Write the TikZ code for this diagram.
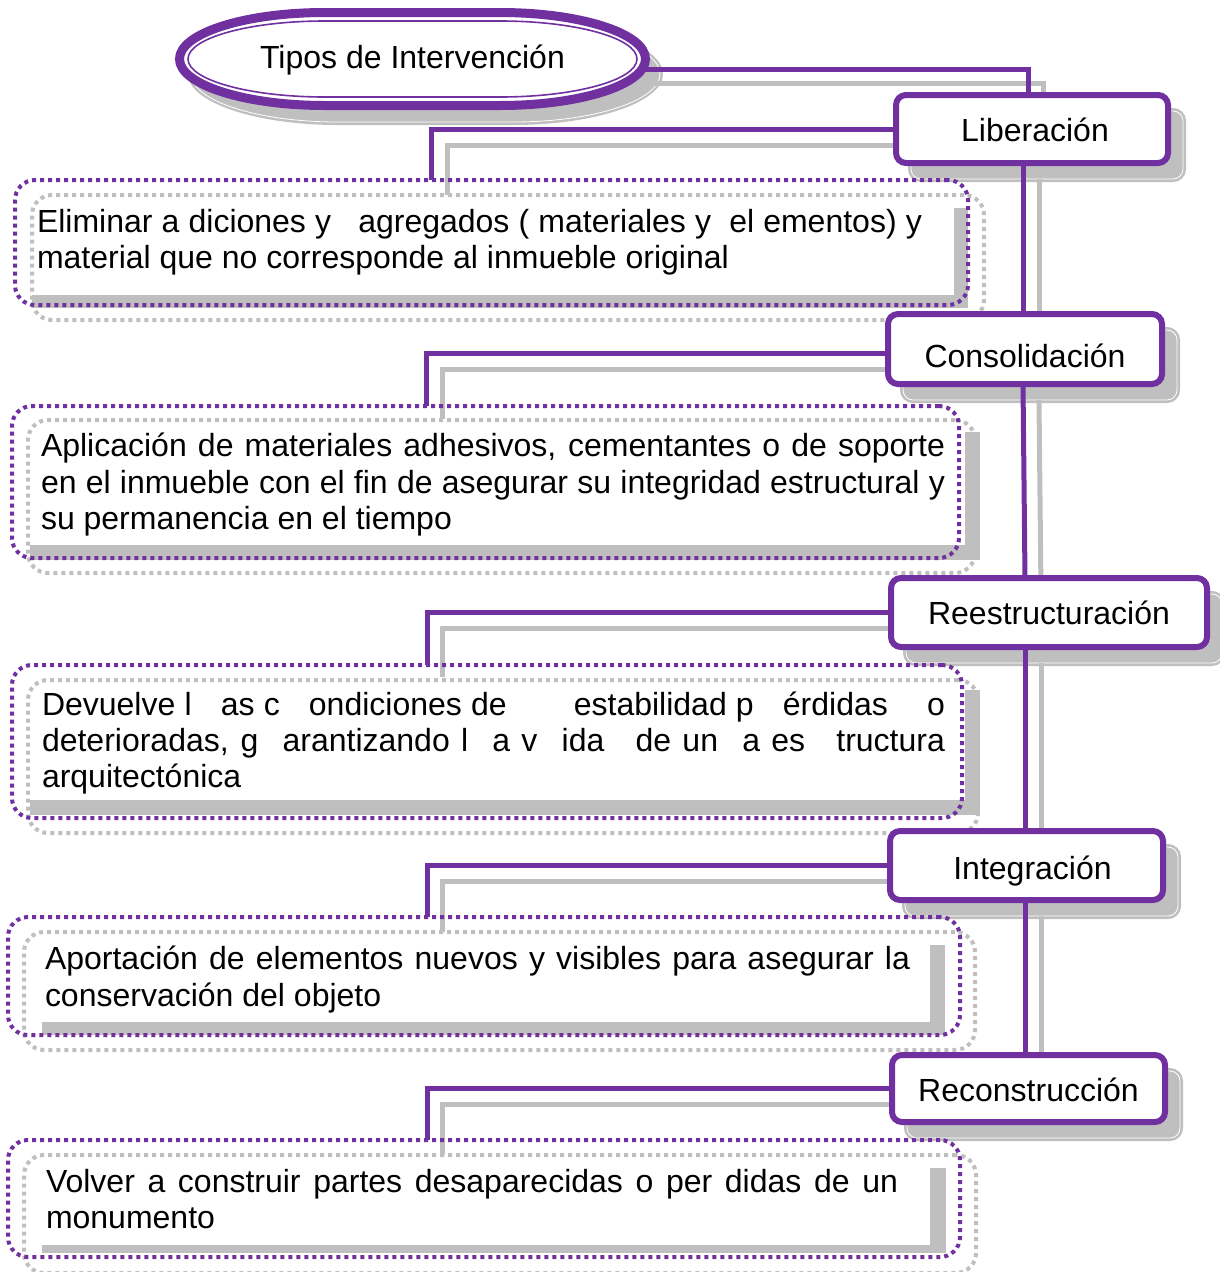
\documentclass[tikz,border=0pt]{standalone}
\usepackage{fontspec}
\setmainfont{Liberation Sans}
\usetikzlibrary{shapes.geometric,fit,calc}
\definecolor{pur}{HTML}{7030A0}
\definecolor{gsh}{HTML}{BFBFBF}
\pgfdeclarelayer{back}
\pgfdeclarelayer{conn}
\pgfsetlayers{back,conn,main}
\newcommand\mklabel[7]{%
  \node[lbox, minimum width=#4, minimum height=#5, text height=#6, text depth=0pt] (#1) at (#2,#3) {#7};
  \begin{pgfonlayer}{back}
    \node[lshadow, minimum width=#4, minimum height=#5] (#1s) at (#2+15,#3+16) {};
  \end{pgfonlayer}}
\begin{document}
\begin{tikzpicture}[x=1pt,y=-1pt,
  every node/.style={inner sep=0pt, outer sep=0pt},
  big/.style={font=\fontsize{32}{36}\selectfont},
  lbox/.style={big, draw=pur, line width=6pt, fill=white, rounded corners=10pt},
  lshadow/.style={fill=gsh, draw=gsh, line width=2.6pt, double=white, double distance=0.8pt, rounded corners=10pt},
  pbox/.style={draw=pur, line width=4pt, dash pattern=on 4pt off 4pt, rounded corners=20pt},
  gbox/.style={draw=gsh, line width=4pt, dash pattern=on 4pt off 4pt, rounded corners=20pt},
  gband/.style={fill=gsh},
  ptxt/.style={big, anchor=base west},
  pline/.style={draw=pur, line width=5pt},
  gline/.style={draw=gsh, line width=5pt},
  ovpath/.style n args={5}{insert path={(#1-#3,#2-#5) -- (#1+#3,#2-#5)
      arc[start angle=90,end angle=-90,x radius=#4pt,y radius=#5pt] -- (#1-#3,#2+#5)
      arc[start angle=270,end angle=90,x radius=#4pt,y radius=#5pt] -- cycle}}]
\useasboundingbox (0,0) rectangle (1219,1272);

% ---------- paragraph 1
\fill[gband] (32,208) rectangle (968,308);
\fill[white] (18,195) rectangle (954,295);
\node[gbox, fit={(32,195) (984,320)}] (p1s) {};
\node[ptxt] (t1a) at (37,232) {\makebox[885pt][s]{Eliminar a diciones y\hspace{18pt} agregados ( materiales y\hspace{9pt} el ementos) y}};
\node[ptxt] (t1b) at (37,268) {material que no corresponde al inmueble original};
\node[pbox, fit={(15,180) (968,305)}] (p1) {};

% ---------- paragraph 2
\fill[gband] (30,432) rectangle (980,560);
\fill[white] (16,419) rectangle (965,545);
\node[gbox, fit={(28,420) (975,573)}] (p2s) {};
\node[ptxt] (t2a) at (41,456) {\makebox[904pt][s]{Aplicación de materiales adhesivos, cementantes o de soporte}};
\node[ptxt] (t2b) at (41,493) {\makebox[904pt][s]{en el inmueble con el fin de asegurar su integridad estructural y}};
\node[ptxt] (t2c) at (41,529) {su permanencia en el tiempo};
\node[pbox, fit={(12,406) (959,558)}] (p2) {};

% ---------- paragraph 3
\fill[gband] (30,690) rectangle (980,815);
\fill[white] (16,677) rectangle (965,800);
\node[gbox, fit={(28,680) (978,833)}] (p3s) {};
\node[ptxt] (t3a) at (42,715) {\makebox[903pt][s]{Devuelve l\hspace{20pt} as c\hspace{20pt} ondiciones de\hspace{58pt} estabilidad p\hspace{20pt} érdidas\hspace{30pt} o}};
\node[ptxt] (t3b) at (42,751) {\makebox[903pt][s]{deterioradas, g\hspace{13pt} arantizando l\hspace{13pt} a v\hspace{13pt} ida\hspace{20pt} de un\hspace{13pt} a es\hspace{20pt} tructura}};
\node[ptxt] (t3c) at (42,787) {arquitectónica};
\node[pbox, fit={(12,665) (962,818)}] (p3) {};

% ---------- paragraph 4
\fill[gband] (42,945) rectangle (945,1035);
\fill[white] (28,932) rectangle (930,1022);
\node[gbox, fit={(24,932) (975,1050)}] (p4s) {};
\node[ptxt] (t4a) at (45,969) {\makebox[865pt][s]{Aportación de elementos nuevos y visibles para asegurar la}};
\node[ptxt] (t4b) at (45,1006) {conservación del objeto};
\node[pbox, fit={(8,917) (960,1035)}] (p4) {};

% ---------- paragraph 5
\fill[gband] (42,1168) rectangle (946,1253);
\fill[white] (28,1155) rectangle (930,1245);
\node[gbox, fit={(24,1155) (976,1273)}] (p5s) {};
\node[ptxt] (t5a) at (46,1192) {\makebox[852pt][s]{Volver a construir partes desaparecidas o per didas de un}};
\node[ptxt] (t5b) at (46,1228) {monumento};
\node[pbox, fit={(8,1140) (960,1257)}] (p5) {};

% ---------- label boxes
\mklabel{lib}{1032}{129}{272}{68}{24pt}{\hspace*{6pt}Liberación}
\mklabel{cons}{1025}{349}{274}{70}{36pt}{Consolidación}
\mklabel{rees}{1049}{612.5}{316}{69}{23pt}{Reestructuración}
\mklabel{integ}{1026.5}{865.5}{273}{69}{27pt}{\hspace*{12pt}Integración}
\mklabel{recon}{1028.5}{1088.5}{273}{67}{25pt}{Reconstrucción}

% ---------- title oval
\path[fill=white, draw=pur, line width=9pt, ovpath={412.5}{59}{87.5}{145.5}{46.5}];
\path[draw=pur, line width=1.6pt, ovpath={412.5}{59}{87.5}{137}{38}];
\node[big, minimum width=475pt, minimum height=102pt, text height=18pt, text depth=0pt] (tipos) at (412.5,59) {Tipos de Intervención};
\begin{pgfonlayer}{back}
  \path[fill=gsh, ovpath={425.5}{74}{87.5}{150}{51}];
  \path[draw=white, line width=0.8pt, ovpath={425.5}{74}{87.5}{147}{48}];
  \coordinate (tiposs) at (425.5,74);
\end{pgfonlayer}

% ---------- helper coordinates
\coordinate (o1) at (1028,69);  \coordinate (o2) at (1043,83);
\coordinate (c1) at (431,0);    \coordinate (d1) at (447,0);
\coordinate (c2) at (426,0);    \coordinate (d2) at (442,0);
\coordinate (c3) at (427,0);    \coordinate (d3) at (442,0);
\coordinate (t1) at (1023,0);   \coordinate (t2) at (1025,0);
\coordinate (s1) at (1039,0);   \coordinate (s2) at (1041,0);

% ---------- gray shadow connectors
\begin{pgfonlayer}{back}
  \draw[gline] (tiposs |- o2) -- (o2) -- (libs.north -| o2);
  \draw[gline] (libs.west) -| (p1s.north -| d1);
  \draw[gline] ([yshift=-4pt]conss.west) -| (p2s.north -| d2);
  \draw[gline] (reess.west) -| (p3s.north -| d3);
  \draw[gline] (integs.west) -| (p4s.north -| d3);
  \draw[gline] (recons.west) -| (p5s.north -| d3);
  \draw[gline] (libs.south -| s1) -- (conss.north -| s1);
  \draw[gline] (conss.south -| s1) -- (reess.north -| s2);
  \draw[gline] (reess.south -| s2) -- (integs.north -| s2);
  \draw[gline] (integs.south -| s2) -- (recons.north -| s2);
\end{pgfonlayer}

% ---------- purple connectors
\begin{pgfonlayer}{conn}
  \draw[pline] (tipos.center |- o1) -- (o1) -- (lib.north -| o1);
  \draw[pline] (lib.west) -| (p1.north -| c1);
  \draw[pline] ([yshift=-4pt]cons.west) -| (p2.north -| c2);
  \draw[pline] (rees.west) -| (p3.north -| c3);
  \draw[pline] (integ.west) -| (p4.north -| c3);
  \draw[pline] (recon.west) -| (p5.north -| c3);
  \draw[pline] (lib.south -| t1) -- (cons.north -| t1);
  \draw[pline] (cons.south -| t1) -- (rees.north -| t2);
  \draw[pline] (rees.south -| t2) -- (integ.north -| t2);
  \draw[pline] (integ.south -| t2) -- (recon.north -| t2);
\end{pgfonlayer}
\end{tikzpicture}
\end{document}
